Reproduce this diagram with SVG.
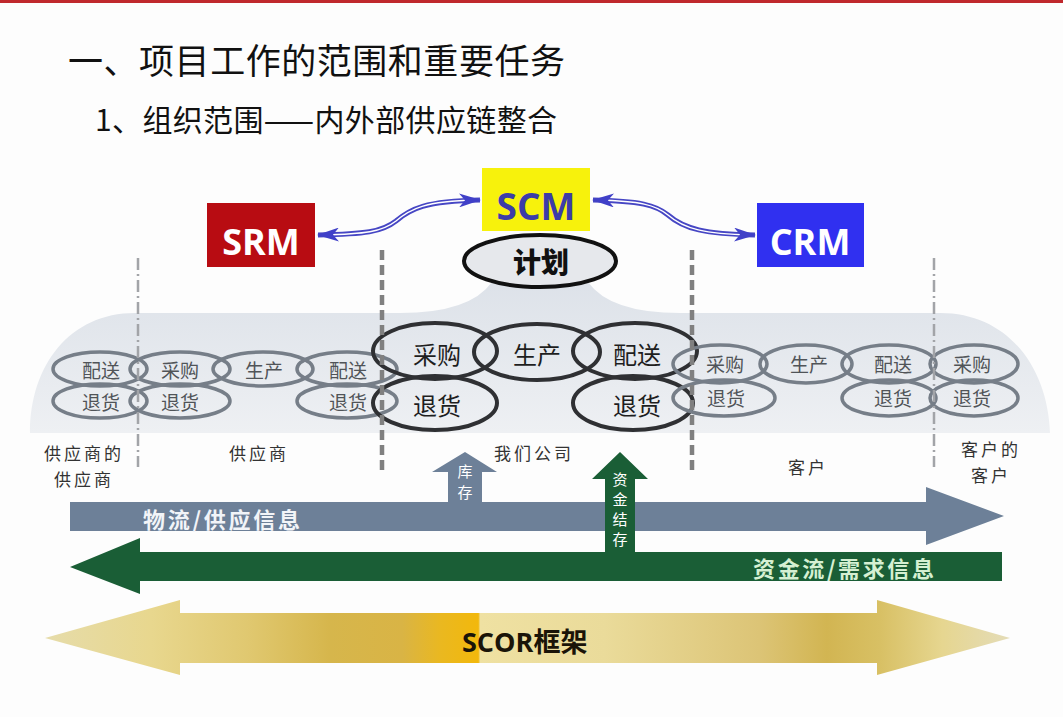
<svg xmlns="http://www.w3.org/2000/svg" width="1063" height="717" viewBox="0 0 1063 717">
<style>
.t{font-family:"Noto Sans CJK SC","Noto Sans",sans-serif;}
.lat{font-family:"Open Sans","Liberation Sans",sans-serif;font-weight:700;}
.se{fill:none;stroke:#767e88;stroke-width:3.5;}
.me{fill:none;stroke:#2f3033;stroke-width:4;}
.st{font-family:"Noto Sans CJK SC",sans-serif;font-size:19px;fill:#505458;text-anchor:middle;dominant-baseline:central;}
.mt{font-family:"Noto Sans CJK SC",sans-serif;font-size:24px;fill:#1e1e1e;text-anchor:middle;dominant-baseline:central;}
.lb{font-family:"Noto Sans CJK SC",sans-serif;font-size:17px;fill:#333;text-anchor:middle;dominant-baseline:central;letter-spacing:3px;}
.vt{font-family:"Noto Sans CJK SC",sans-serif;font-size:15px;fill:#ffffff;text-anchor:middle;dominant-baseline:central;}
.thin{stroke:#a2a4a8;stroke-width:2.5;stroke-dasharray:12 4 2 4;fill:none;}
.thick{stroke:#808080;stroke-width:4.5;stroke-dasharray:10 5;fill:none;}
.wv{fill:none;stroke:#4646c4;stroke-width:5;}
.wvi{fill:none;stroke:#ffffff;stroke-width:1.5;}
</style>
<defs>
<linearGradient id="band" x1="0" y1="0" x2="0" y2="1">
<stop offset="0" stop-color="#dde2e9"/>
<stop offset="1" stop-color="#eef0f3"/>
</linearGradient>
<linearGradient id="gold" gradientUnits="userSpaceOnUse" x1="45" y1="0" x2="1010" y2="0">
<stop offset="0" stop-color="#e6dcaa"/>
<stop offset="0.11" stop-color="#e8d78e"/>
<stop offset="0.21" stop-color="#e0c870"/>
<stop offset="0.295" stop-color="#d6b64c"/>
<stop offset="0.37" stop-color="#d9b445"/>
<stop offset="0.41" stop-color="#eab820"/>
<stop offset="0.449" stop-color="#f2b80c"/>
<stop offset="0.451" stop-color="#efe1a2"/>
<stop offset="0.58" stop-color="#eadb9a"/>
<stop offset="0.74" stop-color="#dcc476"/>
<stop offset="0.81" stop-color="#d2b552"/>
<stop offset="0.865" stop-color="#d8c064"/>
<stop offset="0.93" stop-color="#e6d690"/>
<stop offset="1" stop-color="#e4dcb8"/>
</linearGradient>
<marker id="ah" viewBox="0 0 22 14" refX="21" refY="7" markerWidth="22" markerHeight="14" markerUnits="userSpaceOnUse" orient="auto-start-reverse">
<path d="M0,0 L22,7 L0,14 L6,7 z" fill="#4040c8"/>
</marker>
</defs>
<rect x="0" y="0" width="1063" height="717" fill="#fdfdfd"/>
<rect x="0" y="0" width="1063" height="3" fill="#c0282d"/>

<g id="title">
<text class="t" x="68" y="74" font-size="35" fill="#111" textLength="497">一、项目工作的范围和重要任务</text>
<text class="t" x="95" y="131" font-size="30" fill="#111" textLength="462">1、组织范围——内外部供应链整合</text>
</g>

<g id="band">
<path d="M30,433 C30,365 70,313 135,313 L400,313 Q470,313 492,282 L588,282 Q610,313 680,313 L940,313 C1010,313 1048,370 1050,433 Z" fill="url(#band)"/>
</g>

<g id="srm">
<rect x="207" y="203" width="108" height="64" fill="#b80c12"/>
<text class="lat" x="261" y="255" font-size="36" fill="#ffffff" text-anchor="middle">SRM</text>
</g>
<g id="scm">
<rect x="482" y="168" width="108" height="63" fill="#f7f20c"/>
<text class="lat" x="536" y="220" font-size="37" fill="#3c3ca8" text-anchor="middle">SCM</text>
</g>
<g id="crm">
<rect x="757" y="203" width="107" height="64" fill="#3030f0"/>
<text class="lat" x="810" y="255" font-size="36" fill="#ffffff" text-anchor="middle">CRM</text>
</g>

<g id="plan">
<ellipse cx="540" cy="261" rx="76" ry="26" fill="#e6e8ec" stroke="#111" stroke-width="4"/>
<text class="t" x="541" y="261" font-size="28" font-weight="900" fill="#111" text-anchor="middle" dominant-baseline="central">计划</text>
</g>

<g id="connectors">
<path class="wv" d="M318,235 C365,234 382,232 396,221 C410,209 425,201 480,200"/>
<path class="wvi" d="M322,235 C365,234 382,232 396,221 C410,209 425,201 476,200"/>
<path d="M318,235 C365,234 382,232 396,221 C410,209 425,201 480,200" fill="none" stroke="none" marker-start="url(#ah)" marker-end="url(#ah)"/>
<path class="wv" d="M593,200 C640,201 656,205 668,215 C684,229 705,234 755,235"/>
<path class="wvi" d="M597,200 C640,201 656,205 668,215 C684,229 705,234 751,235"/>
<path d="M593,200 C640,201 656,205 668,215 C684,229 705,234 755,235" fill="none" stroke="none" marker-start="url(#ah)" marker-end="url(#ah)"/>
</g>

<g id="supplier-supplier">
<ellipse class="se" cx="100" cy="369" rx="47" ry="17"/>
<ellipse class="se" cx="100" cy="401" rx="47" ry="17"/>
<text class="st" x="101" y="369">配送</text>
<text class="st" x="101" y="401">退货</text>
</g>
<g id="supplier">
<ellipse class="se" cx="180" cy="369" rx="50" ry="17"/>
<ellipse class="se" cx="180" cy="401" rx="50" ry="17"/>
<ellipse class="se" cx="263" cy="369" rx="50" ry="17"/>
<ellipse class="se" cx="347" cy="369" rx="50" ry="17"/>
<ellipse class="se" cx="347" cy="401" rx="50" ry="17"/>
<text class="st" x="180" y="369">采购</text>
<text class="st" x="180" y="401">退货</text>
<text class="st" x="264" y="369">生产</text>
<text class="st" x="348" y="369">配送</text>
<text class="st" x="348" y="401">退货</text>
</g>
<g id="company">
<ellipse class="me" cx="435" cy="351" rx="62" ry="28"/>
<ellipse class="me" cx="537" cy="352" rx="63" ry="28"/>
<ellipse class="me" cx="635" cy="351" rx="62" ry="28"/>
<ellipse class="me" cx="435" cy="403" rx="62" ry="27"/>
<ellipse class="me" cx="633" cy="403" rx="60" ry="27"/>
<text class="mt" x="437" y="353">采购</text>
<text class="mt" x="537" y="353">生产</text>
<text class="mt" x="637" y="353">配送</text>
<text class="mt" x="437" y="404">退货</text>
<text class="mt" x="637" y="404">退货</text>
</g>
<g id="customer">
<ellipse class="se" cx="720" cy="364" rx="47" ry="19"/>
<ellipse class="se" cx="724" cy="398" rx="51" ry="18"/>
<ellipse class="se" cx="806" cy="364" rx="46" ry="19"/>
<ellipse class="se" cx="889" cy="364" rx="47" ry="19"/>
<ellipse class="se" cx="889" cy="398" rx="47" ry="18"/>
<text class="st" x="725" y="363">采购</text>
<text class="st" x="726" y="397">退货</text>
<text class="st" x="809" y="363">生产</text>
<text class="st" x="893" y="363">配送</text>
<text class="st" x="893" y="397">退货</text>
</g>
<g id="customer-customer">
<ellipse class="se" cx="974" cy="364" rx="44" ry="19"/>
<ellipse class="se" cx="974" cy="398" rx="44" ry="18"/>
<text class="st" x="972" y="363">采购</text>
<text class="st" x="972" y="397">退货</text>
</g>

<g id="dividers">
<line class="thin" x1="138" y1="258" x2="138" y2="467"/>
<line class="thin" x1="934" y1="258" x2="934" y2="467"/>
<line class="thick" x1="382" y1="250" x2="382" y2="475"/>
<line class="thick" x1="692" y1="250" x2="692" y2="475"/>
</g>

<g id="labels">
<text class="lb" x="84" y="452">供应商的</text>
<text class="lb" x="84" y="478">供应商</text>
<text class="lb" x="259" y="452">供应商</text>
<text class="lb" x="534" y="452">我们公司</text>
<text class="lb" x="808" y="466">客户</text>
<text class="lb" x="991" y="448">客户的</text>
<text class="lb" x="991" y="474">客户</text>
</g>

<g id="flow-material">
<path d="M70,502 L926,502 L926,487 L1004,516 L926,545 L926,531 L70,531 Z" fill="#6d8098"/>
<path d="M448,504 L448,472 L432,472 L465,452 L497,472 L482,472 L482,504 Z" fill="#6d8098"/>
<text class="vt" x="465" y="470">库</text>
<text class="vt" x="465" y="491">存</text>
<text class="t" x="143" y="518" font-size="22" font-weight="700" fill="#f2f4f8" dominant-baseline="central" textLength="157">物流/供应信息</text>
</g>

<g id="flow-funds">
<path d="M1002,552 L140,552 L140,538 L70,567 L140,594 L140,581 L1002,581 Z" fill="#1a5e36"/>
<path d="M605,553 L605,479 L592,479 L620,452 L648,479 L635,479 L635,553 Z" fill="#1a5e36"/>
<text class="vt" x="620" y="478">资</text>
<text class="vt" x="620" y="498">金</text>
<text class="vt" x="620" y="518">结</text>
<text class="vt" x="620" y="538">存</text>
<text class="t" x="753" y="567" font-size="22" font-weight="700" fill="#d5f0d2" dominant-baseline="central" textLength="181">资金流/需求信息</text>
</g>

<g id="scor">
<path d="M45,638 L180,600 L180,613 L877,613 L877,600 L1010,638 L877,675 L877,663 L180,663 L180,675 Z" fill="url(#gold)"/>
<text x="462" y="652" font-size="27" fill="#1a1408"><tspan class="lat">SCOR</tspan><tspan class="t" font-weight="700">框架</tspan></text>
</g>
</svg>
